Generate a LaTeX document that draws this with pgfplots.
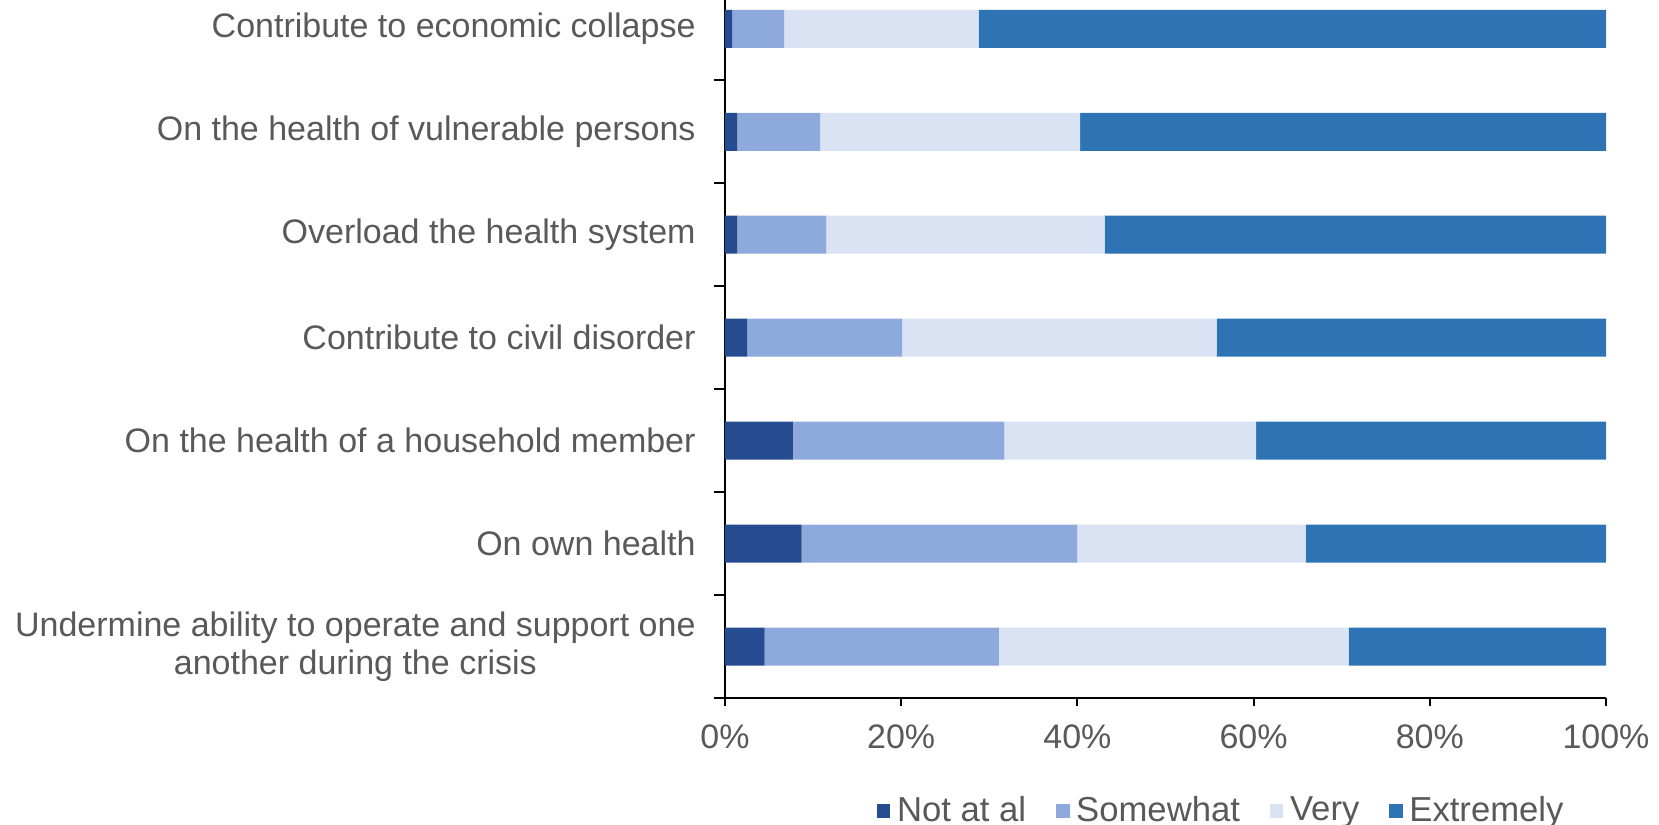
\documentclass[border=0pt]{standalone}
\usepackage{fontspec}
\setmainfont{Liberation Sans}
\usepackage{pgfplots}
\pgfplotsset{compat=1.18}
\definecolor{cNA}{HTML}{254C91}
\definecolor{cSW}{HTML}{8EA9DB}
\definecolor{cV}{HTML}{DAE3F3}
\definecolor{cEX}{HTML}{2E74B5}
\definecolor{txt}{HTML}{595959}
\begin{document}
\begin{tikzpicture}
\begin{axis}[
  xbar stacked,
  scale only axis,
  width=264.3pt, height=209.4pt,
  xmin=0, xmax=100, ymin=-0.5, ymax=6.28,
  axis x line*=bottom, axis y line*=left,
  axis line style={black, line width=0.6pt},
  bar width=11.4pt,
  xtick={0,20,...,100},
  xticklabel={\pgfmathprintnumber{\tick}\%},
  /pgf/number format/assume math mode=true,
  ytick={0,...,6},
  yticklabels={{Undermine ability to operate and support one\\another during the crisis},
    On own health, On the health of a household member, Contribute to civil disorder,
    Overload the health system, On the health of vulnerable persons, Contribute to economic collapse},
  yticklabel style={align=center, font=\fontsize{10.2}{11.5}\selectfont, text=txt, xshift=-2.8pt},
  xticklabel style={font=\fontsize{10.2}{12}\selectfont, text=txt, yshift=-2pt},
  ytick style={draw=none},
  minor ytick={-0.5,0.5,...,5.5},
  minor y tick style={draw=black, line width=0.6pt},
  x tick style={draw=black, line width=0.6pt},
  tick align=outside,
  major tick length=2.5pt,
  minor tick length=3.3pt,
  clip=false,
  legend style={at={(0.566,-0.162)}, anchor=center, draw=none, legend columns=-1,
    font=\fontsize{10.4}{12}\selectfont, text=txt,
    /tikz/every even column/.append style={column sep=7pt}},
  legend image code/.code={\fill[#1] (0pt,-2pt) rectangle (4pt,2pt);},
  legend cell align=left,
]
\addplot[fill=cNA, draw=none] coordinates {(4.5,0) (8.7,1) (7.7,2) (2.5,3) (1.4,4) (1.4,5) (0.8,6)};
\addplot[fill=cSW, draw=none] coordinates {(26.6,0) (31.3,1) (24.0,2) (17.6,3) (10.1,4) (9.4,5) (5.9,6)};
\addplot[fill=cV, draw=none] coordinates {(39.7,0) (25.9,1) (28.6,2) (35.7,3) (31.6,4) (29.5,5) (22.1,6)};
\addplot[fill=cEX, draw=none] coordinates {(29.2,0) (34.1,1) (39.7,2) (44.2,3) (56.9,4) (59.7,5) (71.2,6)};
\legend{Not at al, Somewhat, Very, Extremely}
\coordinate (o) at (rel axis cs:0,0);
\end{axis}
\pgfresetboundingbox
\path (o) ++(-217.5pt,-37.8pt) rectangle ++(497.7pt,247.2pt);
\end{tikzpicture}
\end{document}
